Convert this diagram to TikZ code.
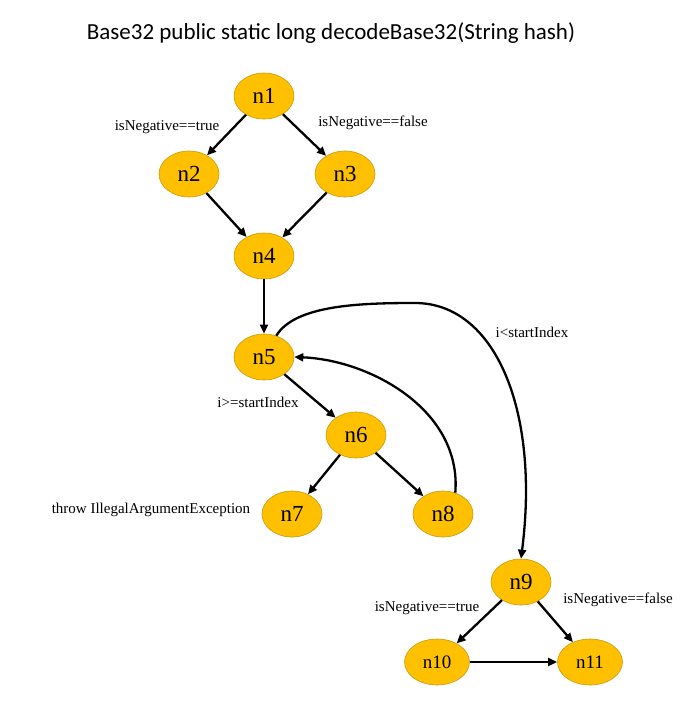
\documentclass[tikz,border=0pt]{standalone}
\usepackage{fontspec}
\setmainfont{Liberation Serif}
\newfontfamily\titlefont{Carlito}
\usetikzlibrary{arrows.meta,shapes.geometric}
\definecolor{nodefill}{HTML}{FFC000}
\definecolor{nodeline}{HTML}{C89A10}

\begin{document}
\begin{tikzpicture}[
  x=1pt, y=-1pt,
  state/.style={ellipse, draw=nodeline, fill=nodefill, line width=0.6pt, minimum width=60pt, minimum height=46pt, inner sep=0pt, font=\fontsize{23}{25}\selectfont},
  smallstate/.style={state, minimum width=65pt, font=\fontsize{19}{21}\selectfont},
  cond/.style={font=\fontsize{15}{17}\selectfont, inner sep=1pt},
  flow/.style={-{Triangle[length=9pt,width=8pt]}, line width=2.3pt}
]
\useasboundingbox (0,0) rectangle (691,710);
\node[font=\titlefont\fontsize{23}{26}\selectfont] (title) at (331,33) {Base32 public static long decodeBase32(String hash)};

% nodes
\node[state] (n1) at (264,96) {n1};
\node[state] (n2) at (189,174) {n2};
\node[state] (n3) at (345,174) {n3};
\node[state] (n4) at (264,256) {n4};
\node[state] (n5) at (264,357) {n5};
\node[state] (n6) at (356,435) {n6};
\node[state] (n7) at (292,514) {n7};
\node[state] (n8) at (443,514) {n8};
\node[state] (n9) at (521,582) {n9};
\node[smallstate] (n10) at (437,662) {n10};
\node[smallstate] (n11) at (590,662) {n11};

% conditions
\node[cond] (c12) at (167,127) {isNegative==true};
\node[cond] (c13) at (373,123) {isNegative==false};
\node[cond] (c59) at (532,332) {i<startIndex};
\node[cond] (c56) at (258,402) {i>=startIndex};
\node[cond] (c7) at (151,510) {throw IllegalArgumentException};
\node[cond] (c910) at (427,608) {isNegative==true};
\node[cond] (c911) at (618,600) {isNegative==false};

% edges
\draw[flow] (n1) -- (n2);
\draw[flow] (n1) -- (n3);
\draw[flow] (n2) -- (n4);
\draw[flow] (n3) -- (n4);
\draw[flow] (n4) -- (n5);
\draw[flow] (n5) -- (n6);
\draw[flow] (n6) -- (n7);
\draw[flow] (n6) -- (n8);
\draw[flow] (n8.60) .. controls (462,410) and (370,360) .. (n5.east);
\draw[flow] (n5.60) .. controls (295,305) and (360,303) .. (415,303)
  .. controls (495,303) and (540,410) .. (n9.north);
\draw[flow] (n9) -- (n10);
\draw[flow] (n9) -- (n11);
\draw[flow] (n10) -- (n11);
\end{tikzpicture}
\end{document}
